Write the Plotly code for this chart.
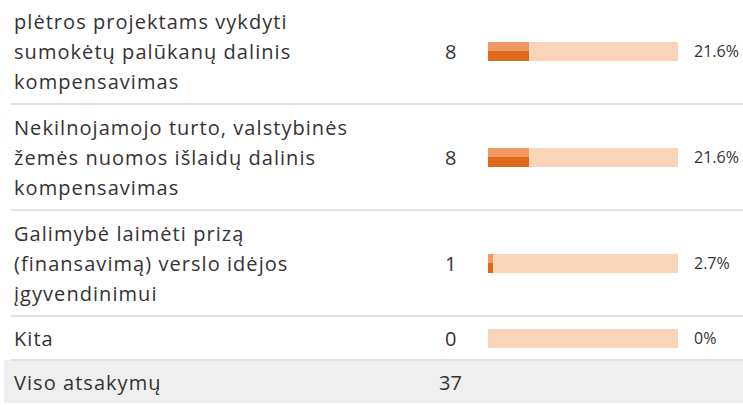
import plotly.graph_objects as go

# ---- data ----
categories = [
    "plėtros projektams vykdyti<br>sumokėtų palūkanų dalinis<br>kompensavimas",
    "Nekilnojamojo turto, valstybinės<br>žemės nuomos išlaidų dalinis<br>kompensavimas",
    "Galimybė laimėti prizą<br>(finansavimą) verslo idėjos<br>įgyvendinimui",
    "Kita",
]
counts = [8, 8, 1, 0]
total_label = "Viso atsakymų"
total_count = 37

# ---- layout constants ----
W, H = 743, 405
FONT = "Open Sans"
TXT = "#333333"
LINE_H = 30
TOP = -2

def fmt_pct(p):
    s = "%.1f" % p
    s = s.rstrip("0").rstrip(".")
    return s + "%"

def spaced(t, ls=1.05):
    return '<span style="letter-spacing:%.2fpx">%s</span>' % (ls, t)

pcts = [c / total_count * 100 for c in counts]

# row geometry (pixel-like y units)
lines = [c.split("<br>") for c in categories] + [[total_label]]
tops, centers, bottoms = [], [], []
y = TOP
for ls in lines:
    h = 31 * len(ls) + 13
    tops.append(y)
    centers.append(y + h / 2)
    bottoms.append(y + h)
    y += h

bar_y = centers[:len(counts)]

fig = go.Figure()
fig.add_trace(go.Bar(x=[100] * len(counts), y=bar_y, orientation="h", width=19,
                     marker=dict(color="#f9d4b8", line=dict(width=0)),
                     hoverinfo="skip", showlegend=False))
fig.add_trace(go.Bar(x=pcts, y=bar_y, orientation="h", width=19,
                     marker=dict(color="#e06a1c", line=dict(width=0)),
                     hoverinfo="skip", showlegend=False))
fig.add_trace(go.Bar(x=pcts, y=bar_y, orientation="h", width=9.5, offset=-9.5,
                     marker=dict(color="#ef9a63", line=dict(width=0)),
                     hoverinfo="skip", showlegend=False))

annotations = []
for i, ls in enumerate(lines):
    n = len(ls)
    for j, t in enumerate(ls):
        yy = centers[i] + (j - (n - 1) / 2) * LINE_H
        annotations.append(dict(text=spaced(t), x=12 / W, xref="paper", xanchor="left",
                                y=yy, yref="y", yanchor="middle", showarrow=False,
                                font=dict(family=FONT, size=20, color=TXT)))
for i, c in enumerate(counts + [total_count]):
    annotations.append(dict(text=str(c), x=450 / W, xref="paper", xanchor="center",
                            y=centers[i], yref="y", yanchor="middle", showarrow=False,
                            font=dict(family=FONT, size=20, color=TXT)))
for i, p in enumerate(pcts):
    annotations.append(dict(text=fmt_pct(p), x=692 / W, xref="paper", xanchor="left",
                            y=centers[i], yref="y", yanchor="middle", showarrow=False,
                            font=dict(family=FONT, size=16, color=TXT)))

shapes = []
# total row background
shapes.append(dict(type="rect", xref="paper", yref="y", x0=4 / W, x1=1,
                   y0=tops[-1], y1=bottoms[-1] - 1, fillcolor="#efefef",
                   line=dict(width=0), layer="below"))
for b in bottoms[:-1]:
    shapes.append(dict(type="line", xref="paper", yref="y", x0=11 / W, x1=1,
                       y0=b, y1=b, line=dict(color="#e2e2e2", width=2), layer="below"))

fig.update_layout(
    width=W, height=H,
    margin=dict(l=0, r=0, t=0, b=0),
    paper_bgcolor="white", plot_bgcolor="rgba(0,0,0,0)",
    barmode="overlay", bargap=0,
    xaxis=dict(domain=[488 / W, 678 / W], range=[0, 100], visible=False, fixedrange=True),
    yaxis=dict(range=[H, 0], visible=False, fixedrange=True),
    annotations=annotations, shapes=shapes,
    font=dict(family=FONT, color=TXT),
)

fig.write_html("out.html", config={"displayModeBar": False},
               post_script="document.body.style.margin='0';document.body.style.overflow='hidden';")
